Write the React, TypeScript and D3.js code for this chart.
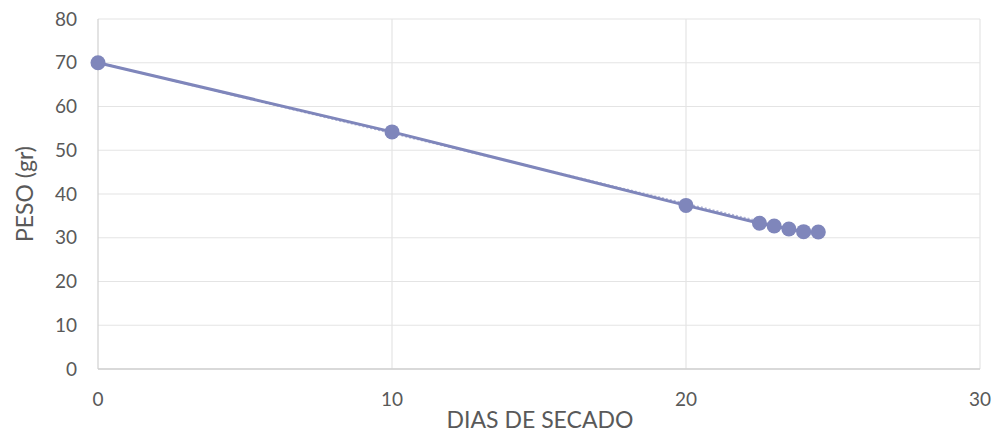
import React from "react";
import * as d3 from "d3";

const days = [0, 10, 20, 22.5, 23, 23.5, 24, 24.5];
const weights = [70, 54.2, 37.4, 33.3, 32.7, 32.0, 31.4, 31.3];
const xTicks = [0, 10, 20, 30];
const yTicks = [0, 10, 20, 30, 40, 50, 60, 70, 80];

export default function App() {
  const W = 995, H = 432;
  const x = d3.scaleLinear().domain([0, 30]).range([98, 980]);
  const y = d3.scaleLinear().domain([0, 80]).range([369, 19]);
  const pts = days.map((d, i) => [d, weights[i]] as [number, number]);
  const line = d3.line<[number, number]>().x(d => x(d[0])).y(d => y(d[1]));
  const mx = d3.mean(days)!, my = d3.mean(weights)!;
  const slope = d3.sum(pts, p => (p[0] - mx) * (p[1] - my)) / d3.sum(pts, p => (p[0] - mx) ** 2);
  const icpt = my - slope * mx;
  const font = "'Lato', 'Open Sans', sans-serif";
  const col = "#7f86bb";
  return (
    <svg width={W} height={H} style={{ position: "absolute", left: 0, top: 0, background: "#fff" }}>
      {yTicks.map(t => (
        <line key={"gy" + t} x1={x(0)} x2={x(30)} y1={y(t)} y2={y(t)} stroke="#e4e4e4" strokeWidth={1.2} />
      ))}
      {xTicks.map(t => (
        <line key={"gx" + t} x1={x(t)} x2={x(t)} y1={y(0)} y2={y(80)} stroke={t === 0 ? "#d0d0d0" : "#e4e4e4"} strokeWidth={1.2} />
      ))}
      <line x1={x(0)} x2={x(30)} y1={y(0)} y2={y(0)} stroke="#d0d0d0" strokeWidth={1.5} />
      {yTicks.map(t => (
        <text key={"ty" + t} x={77} y={y(t)} dy="0.35em" textAnchor="end" fontFamily={font} fontSize={19} fill="#595959">{t}</text>
      ))}
      {xTicks.map(t => (
        <text key={"tx" + t} x={x(t)} y={406} textAnchor="middle" fontFamily={font} fontSize={19} fill="#595959">{t}</text>
      ))}
      <text x={540} y={428} textAnchor="middle" fontFamily={font} fontSize={23} fill="#595959">DIAS DE SECADO</text>
      <text transform={`translate(33,${y(40)}) rotate(-90)`} textAnchor="middle" fontFamily={font} fontSize={23} fill="#595959">PESO (gr)</text>
      <line x1={x(0)} x2={x(24.5)} y1={y(icpt)} y2={y(icpt + slope * 24.5)} stroke={col} strokeWidth={2} strokeDasharray="2,2" opacity={0.6} />
      <path d={line(pts) || ""} fill="none" stroke={col} strokeWidth={3} />
      {pts.map((p, i) => (
        <circle key={i} cx={x(p[0])} cy={y(p[1])} r={7.5} fill={col} />
      ))}
    </svg>
  );
}
